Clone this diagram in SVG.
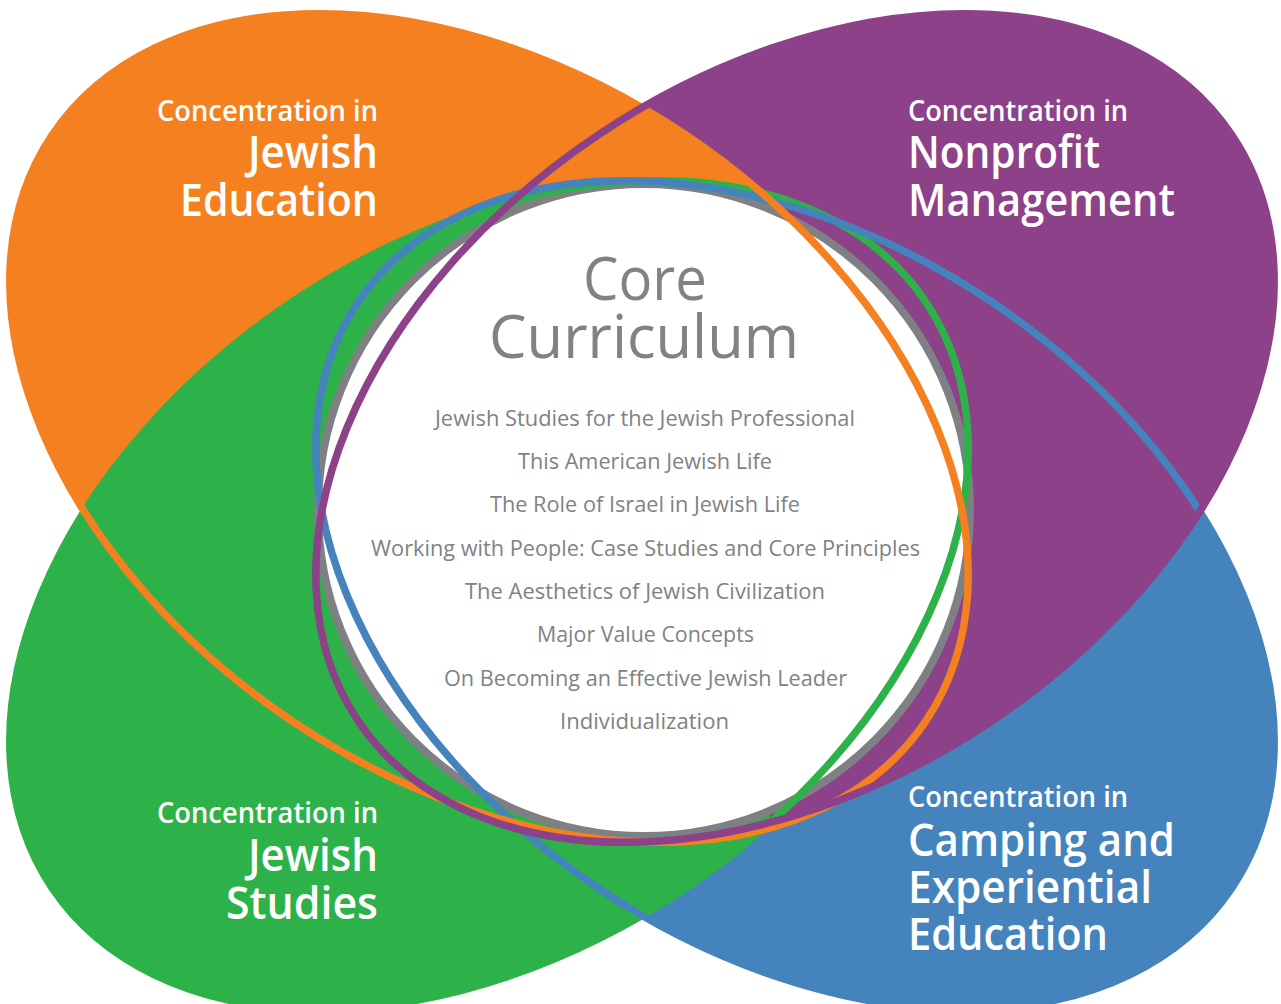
<svg xmlns="http://www.w3.org/2000/svg" width="1281" height="1004" viewBox="0 0 1281 1004">
<style>
.lbl{font-family:"Open Sans","Noto Sans","DejaVu Sans",sans-serif;font-weight:600;fill:#ffffff}
.sm{font-size:28px}
.lg{font-size:45px}
.core{font-family:"Open Sans","Noto Sans","DejaVu Sans",sans-serif;font-weight:400;fill:#808285;font-size:61px}
.item{font-family:"Open Sans","Noto Sans","DejaVu Sans",sans-serif;font-weight:400;fill:#808285;font-size:21px}
.ln{fill:none;stroke-width:7.5}
</style>
<defs>
<ellipse id="eO" cx="489" cy="428" rx="526" ry="353" transform="rotate(33.8 489 428)"/>
<ellipse id="eP" cx="795" cy="428" rx="526" ry="353" transform="rotate(-33.8 795 428)"/>
<ellipse id="eG" cx="489" cy="595" rx="526" ry="353" transform="rotate(-33.8 489 595)"/>
<ellipse id="eB" cx="795" cy="595" rx="526" ry="353" transform="rotate(33.8 795 595)"/>
<clipPath id="cRight"><polygon points="648,106 640,100 640,0 1281,0 1281,1004 770,1004 770,250 790,215 742,174"/></clipPath>
</defs>
<rect width="1281" height="1004" fill="#ffffff"/>
<g id="petal-fills">
<use href="#eB" fill="#4583BC"/>
<use href="#eP" fill="#8C4189"/>
<use href="#eO" fill="#F58020"/>
<use href="#eG" fill="#2DB24A"/>
<use href="#eP" fill="#8C4189" clip-path="url(#cRight)"/>
</g>
<g id="core-circle">
<circle cx="644" cy="510" r="326" fill="#ffffff" stroke="#7F8083" stroke-width="8"/>
</g>
<g id="connectors">
<use href="#eG" class="ln" stroke="#2DB24A"/>
<use href="#eB" class="ln" stroke="#4583BC"/>
<use href="#eO" class="ln" stroke="#F58020"/>
<use href="#eP" class="ln" stroke="#8C4189"/>
</g>
<g id="node-jewish-education">
<text class="lbl sm" x="157" y="121" textLength="221" lengthAdjust="spacingAndGlyphs">Concentration in</text>
<text class="lbl lg" x="248" y="168" textLength="130" lengthAdjust="spacingAndGlyphs">Jewish</text>
<text class="lbl lg" x="180" y="216" textLength="198" lengthAdjust="spacingAndGlyphs">Education</text>
</g>
<g id="node-nonprofit-management">
<text class="lbl sm" x="908" y="121" textLength="220" lengthAdjust="spacingAndGlyphs">Concentration in</text>
<text class="lbl lg" x="908" y="168" textLength="192" lengthAdjust="spacingAndGlyphs">Nonprofit</text>
<text class="lbl lg" x="908" y="216" textLength="267" lengthAdjust="spacingAndGlyphs">Management</text>
</g>
<g id="node-jewish-studies">
<text class="lbl sm" x="157" y="823" textLength="221" lengthAdjust="spacingAndGlyphs">Concentration in</text>
<text class="lbl lg" x="248" y="871" textLength="130" lengthAdjust="spacingAndGlyphs">Jewish</text>
<text class="lbl lg" x="226" y="919" textLength="152" lengthAdjust="spacingAndGlyphs">Studies</text>
</g>
<g id="node-camping">
<text class="lbl sm" x="908" y="807" textLength="220" lengthAdjust="spacingAndGlyphs">Concentration in</text>
<text class="lbl lg" x="908" y="856" textLength="267" lengthAdjust="spacingAndGlyphs">Camping and</text>
<text class="lbl lg" x="908" y="903" textLength="244" lengthAdjust="spacingAndGlyphs">Experiential</text>
<text class="lbl lg" x="908" y="950" textLength="200" lengthAdjust="spacingAndGlyphs">Education</text>
</g>
<g id="node-core-curriculum">
<text class="core" x="583" y="300" textLength="124" lengthAdjust="spacingAndGlyphs">Core</text>
<text class="core" x="489" y="358" textLength="310" lengthAdjust="spacingAndGlyphs">Curriculum</text>
<text class="item" x="435" y="426" textLength="420" lengthAdjust="spacingAndGlyphs">Jewish Studies for the Jewish Professional</text>
<text class="item" x="518" y="469" textLength="254" lengthAdjust="spacingAndGlyphs">This American Jewish Life</text>
<text class="item" x="490" y="512" textLength="310" lengthAdjust="spacingAndGlyphs">The Role of Israel in Jewish Life</text>
<text class="item" x="371" y="556" textLength="549" lengthAdjust="spacingAndGlyphs">Working with People: Case Studies and Core Principles</text>
<text class="item" x="465" y="599" textLength="360" lengthAdjust="spacingAndGlyphs">The Aesthetics of Jewish Civilization</text>
<text class="item" x="537" y="642" textLength="217" lengthAdjust="spacingAndGlyphs">Major Value Concepts</text>
<text class="item" x="444" y="686" textLength="403" lengthAdjust="spacingAndGlyphs">On Becoming an Effective Jewish Leader</text>
<text class="item" x="560" y="729" textLength="169" lengthAdjust="spacingAndGlyphs">Individualization</text>
</g>
</svg>
